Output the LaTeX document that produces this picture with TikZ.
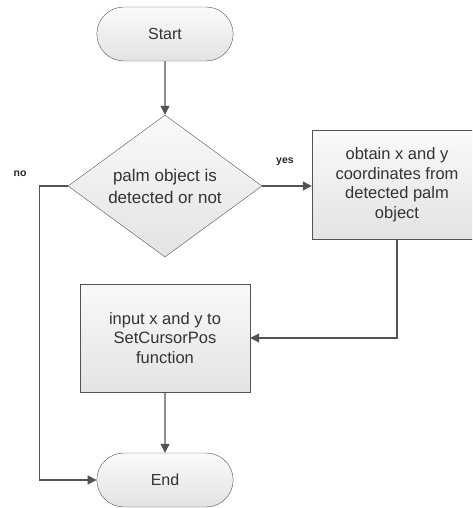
\documentclass[tikz,border=0pt]{standalone}
\usepackage{fontspec}
\setmainfont{Liberation Sans}
\usetikzlibrary{shapes.geometric,shapes.misc,arrows.meta}
\begin{document}
\begin{tikzpicture}[x=1pt,y=-1pt,
  term/.style={draw=gray!65!black, rounded rectangle, minimum width=143pt, minimum height=54pt,
    top color=gray!4, bottom color=gray!22, text=black!80, font=\fontsize{16}{19}\selectfont},
  decide/.style={draw=gray!65!black, diamond, aspect=1.37, minimum width=194pt, minimum height=142pt,
    inner sep=0pt, top color=gray!4, bottom color=gray!22, text=black!80, align=center,
    font=\fontsize{17}{22}\selectfont},
  procbox/.style={draw=gray!65!black, rectangle, minimum width=170pt, minimum height=108pt,
    top color=gray!4, bottom color=gray!22, text=black!80, align=center,
    font=\fontsize{16.5}{19.5}\selectfont},
  flow/.style={draw=gray!65!black, line width=1.1pt, -{Triangle[length=9pt,width=9pt]}},
  branch/.style={font=\bfseries\fontsize{10.5}{12}\selectfont, text=black!85}]
\useasboundingbox (0,0) rectangle (472,508);
\clip (0,0) rectangle (472,508);
\node[term] (start) at (165,34) {Start};
\node[decide] (palm) at (165,186) {palm object is\\detected or not};
\node[procbox, minimum height=109pt] (coords) at (397,184.5) {obtain x and y\\coordinates from\\detected palm\\object};
\node[procbox] (setpos) at (165,338) {input x and y to\\SetCursorPos\\function};
\node[term] (end) at (165,480) {End};
\node[branch] (yes) at (285,162) {yes};
\node[branch] (no) at (20,174) {no};
\path[flow] (start) -- (palm);
\path[flow] (palm.east) -- (palm.east -| coords.west);
\path[flow] (coords.south) |- (setpos.east);
\path[flow] (setpos) -- (end);
\path[flow] (palm.west) -- ++(-28,0) |- (end.west);
\end{tikzpicture}
\end{document}
